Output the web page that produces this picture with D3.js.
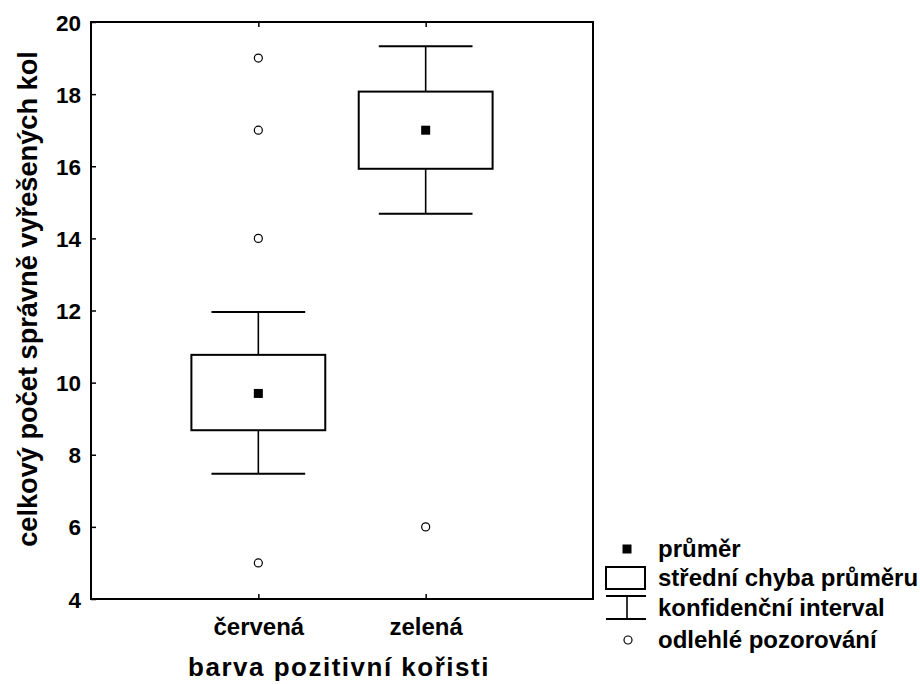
<!DOCTYPE html>
<html>
<head>
<meta charset="utf-8">
<script src="https://cdn.jsdelivr.net/npm/d3@7"></script>
<style>
  html, body { margin: 0; padding: 0; background: #fff; }
  svg text { font-family: "Liberation Sans", Arial, sans-serif; font-weight: bold; fill: #000; }
</style>
</head>
<body>
<div id="chart"></div>
<script>
// Groups and their summary statistics
const categories = ["červená", "zelená"];
const means = [9.7, 17.0];
const seLow = [8.68, 15.93];
const seHigh = [10.77, 18.07];
const ciLow = [7.47, 14.68];
const ciHigh = [11.96, 19.33];
// Outlying observations per group
const outlierGroup = ["červená", "červená", "červená", "červená", "zelená"];
const outlierValue = [19, 17, 14, 5, 6];
const yTicks = [4, 6, 8, 10, 12, 14, 16, 18, 20];
const legendLabels = ["průměr", "střední chyba průměru", "konfidenční interval", "odlehlé pozorování"];

const W = 920, H = 684;
const plot = { left: 91, right: 593, top: 22, bottom: 599 };

const svg = d3.select("#chart").append("svg")
  .attr("width", W).attr("height", H);

const x = d3.scalePoint().domain(categories).range([plot.left, plot.right]).padding(1);
const y = d3.scaleLinear().domain([4, 20]).range([plot.bottom, plot.top]);
const step = x.step();

// Frame
svg.append("rect")
  .attr("x", plot.left).attr("y", plot.top)
  .attr("width", plot.right - plot.left).attr("height", plot.bottom - plot.top)
  .attr("fill", "none").attr("stroke", "#000").attr("stroke-width", 2);

// Left axis: inward ticks, labels to the left
const yAxis = d3.axisLeft(y).tickValues(yTicks).tickSizeInner(-5).tickSizeOuter(0).tickPadding(10);
const gy = svg.append("g").attr("transform", `translate(${plot.left},0)`).call(yAxis);
gy.select(".domain").remove();
gy.selectAll(".tick line").attr("stroke", "#000").attr("stroke-width", 1.5);
gy.selectAll(".tick text").attr("font-size", 22.5).attr("font-family", null).attr("dy", "0.36em");

// Bottom axis: inward ticks
const xAxis = d3.axisBottom(x).tickSizeInner(-5).tickSizeOuter(0).tickPadding(19);
const gx = svg.append("g").attr("transform", `translate(0,${plot.bottom})`).call(xAxis);
gx.select(".domain").remove();
gx.selectAll(".tick line").attr("stroke", "#000").attr("stroke-width", 1.5);
gx.selectAll(".tick text").attr("font-size", 24).attr("font-family", null);

// Top mirror ticks
const xTop = d3.axisTop(x).tickSizeInner(-5).tickSizeOuter(0).tickFormat("");
const gt = svg.append("g").attr("transform", `translate(0,${plot.top})`).call(xTop);
gt.select(".domain").remove();
gt.selectAll(".tick line").attr("stroke", "#000").attr("stroke-width", 1.5);

// Confidence interval whiskers
const boxW = step * 0.8, capW = step * 0.56;
const groups = svg.append("g").selectAll("g").data(categories).join("g");
groups.append("line")
  .attr("x1", d => x(d)).attr("x2", d => x(d))
  .attr("y1", (d, i) => y(ciLow[i])).attr("y2", (d, i) => y(ciHigh[i]))
  .attr("stroke", "#000").attr("stroke-width", 1.6);
groups.append("line")
  .attr("x1", d => x(d) - capW / 2).attr("x2", d => x(d) + capW / 2)
  .attr("y1", (d, i) => y(ciHigh[i])).attr("y2", (d, i) => y(ciHigh[i]))
  .attr("stroke", "#000").attr("stroke-width", 2);
groups.append("line")
  .attr("x1", d => x(d) - capW / 2).attr("x2", d => x(d) + capW / 2)
  .attr("y1", (d, i) => y(ciLow[i])).attr("y2", (d, i) => y(ciLow[i]))
  .attr("stroke", "#000").attr("stroke-width", 2);

// Standard error boxes
groups.append("rect")
  .attr("x", d => x(d) - boxW / 2).attr("width", boxW)
  .attr("y", (d, i) => y(seHigh[i])).attr("height", (d, i) => y(seLow[i]) - y(seHigh[i]))
  .attr("fill", "#fff").attr("stroke", "#000").attr("stroke-width", 2);

// Means
groups.append("rect")
  .attr("x", d => x(d) - 4.5).attr("y", (d, i) => y(means[i]) - 4.5)
  .attr("width", 9).attr("height", 9).attr("fill", "#000");

// Outliers
svg.append("g").selectAll("circle").data(outlierValue).join("circle")
  .attr("cx", (d, i) => x(outlierGroup[i])).attr("cy", d => y(d))
  .attr("r", 4).attr("fill", "#fff").attr("stroke", "#000").attr("stroke-width", 1.2);

// Axis titles
svg.append("text")
  .attr("x", (plot.left + plot.right) / 2 - 3).attr("y", 676)
  .attr("text-anchor", "middle").attr("font-size", 26).attr("letter-spacing", 1.5)
  .text("barva pozitivní kořisti");
svg.append("text")
  .attr("transform", "translate(37,299) rotate(-90)")
  .attr("text-anchor", "middle").attr("font-size", 27.2)
  .text("celkový počet správně vyřešených kol");

// Legend
const lg = svg.append("g");
const lgTextX = 658, mx = 627;
const rows = [549, 578, 608, 640];
lg.append("rect").attr("x", mx - 4.5).attr("y", rows[0] - 4.5).attr("width", 9).attr("height", 9).attr("fill", "#000");
lg.append("rect").attr("x", 606).attr("y", 567).attr("width", 39).attr("height", 22)
  .attr("fill", "#fff").attr("stroke", "#000").attr("stroke-width", 2);
lg.append("line").attr("x1", 606).attr("x2", 646).attr("y1", 596).attr("y2", 596).attr("stroke", "#000").attr("stroke-width", 2);
lg.append("line").attr("x1", 606).attr("x2", 646).attr("y1", 619).attr("y2", 619).attr("stroke", "#000").attr("stroke-width", 2);
lg.append("line").attr("x1", mx).attr("x2", mx).attr("y1", 596).attr("y2", 619).attr("stroke", "#000").attr("stroke-width", 1.6);
lg.append("circle").attr("cx", mx + 1).attr("cy", rows[3]).attr("r", 4)
  .attr("fill", "#fff").attr("stroke", "#000").attr("stroke-width", 1.2);
lg.selectAll("text").data(legendLabels).join("text")
  .attr("x", lgTextX).attr("y", (d, i) => rows[i]).attr("dy", "0.35em")
  .attr("font-size", 24).text(d => d);
</script>
</body>
</html>
